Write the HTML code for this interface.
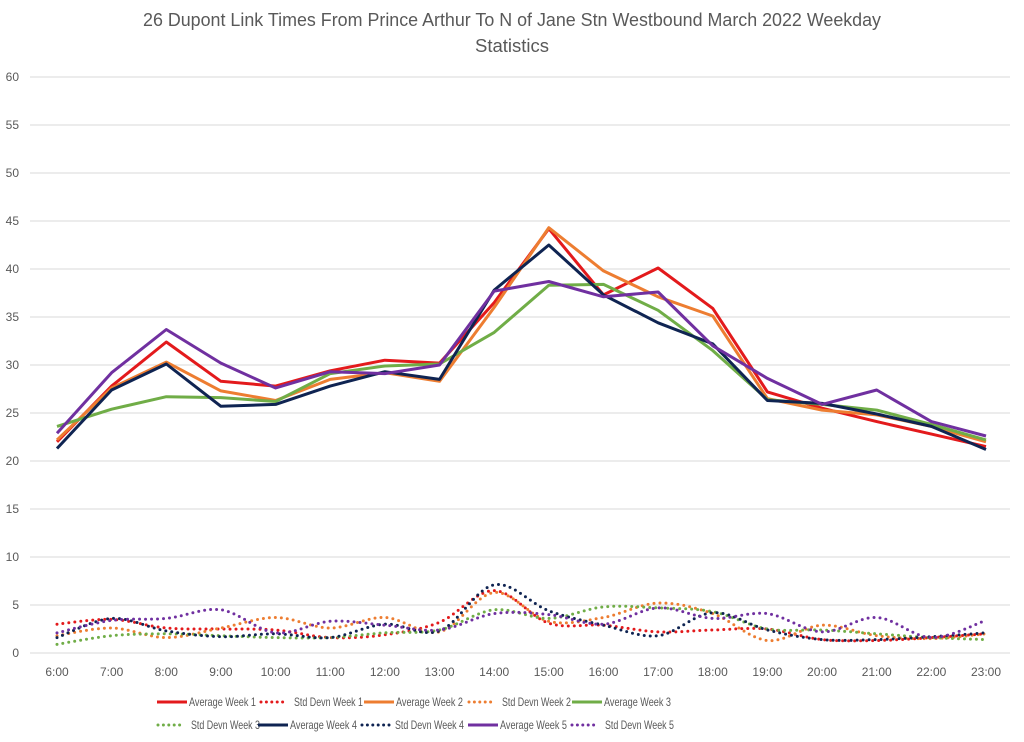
<!DOCTYPE html>
<html><head><meta charset="utf-8"><style>
body{margin:0;background:#fff;}
svg{display:block;font-family:"Liberation Sans",sans-serif;}
</style></head><body>
<svg id="chart" width="1024" height="742" viewBox="0 0 1024 742">
<text x="143" y="26" font-size="18.5" fill="#595959" textLength="738" lengthAdjust="spacingAndGlyphs">26 Dupont Link Times From Prince Arthur To N of Jane Stn Westbound March 2022 Weekday</text>
<text x="512" y="52" text-anchor="middle" font-size="18.5" fill="#595959">Statistics</text>
<g id="grid"></g><g id="series"></g><g id="legend"></g>
</svg>
<script>
const categories=["6:00","7:00","8:00","9:00","10:00","11:00","12:00","13:00","14:00","15:00","16:00","17:00","18:00","19:00","20:00","21:00","22:00","23:00"];
const yTicks=[0,5,10,15,20,25,30,35,40,45,50,55,60];
const avgWeek1=[22.0,27.8,32.4,28.3,27.8,29.4,30.5,30.2,36.5,44.2,37.3,40.1,35.9,27.2,25.5,24.1,22.8,21.5];
const sdWeek1=[3.0,3.5,2.6,2.5,2.4,1.6,1.9,3.2,6.5,3.1,2.9,2.2,2.4,2.5,1.4,1.3,1.6,2.0];
const avgWeek2=[22.2,27.6,30.3,27.3,26.3,28.5,29.2,28.3,36.0,44.3,39.8,37.1,35.1,26.5,25.3,24.8,23.6,22.0];
const sdWeek2=[1.8,2.6,1.6,2.6,3.7,2.6,3.7,2.2,6.3,3.3,3.7,5.2,4.1,1.3,2.9,1.8,1.5,2.0];
const avgWeek3=[23.6,25.4,26.7,26.6,26.2,29.1,29.9,30.1,33.4,38.3,38.4,35.7,31.5,26.4,25.9,25.3,23.8,22.2];
const sdWeek3=[0.9,1.8,2.0,1.8,1.6,1.6,2.1,2.4,4.5,3.6,4.8,4.7,4.3,2.5,2.4,2.0,1.6,1.4];
const avgWeek4=[21.3,27.4,30.1,25.7,25.9,27.8,29.3,28.5,37.8,42.5,37.3,34.4,32.2,26.3,26.0,24.9,23.6,21.2];
const sdWeek4=[1.6,3.6,2.3,1.7,2.0,1.6,3.0,2.3,7.1,4.4,2.9,1.8,4.2,2.4,1.4,1.4,1.7,2.1];
const avgWeek5=[22.9,29.2,33.7,30.2,27.6,29.3,29.1,30.0,37.7,38.7,37.1,37.6,32.0,28.6,25.9,27.4,24.1,22.6];
const sdWeek5=[2.1,3.4,3.6,4.5,2.1,3.3,2.9,2.4,4.1,4.0,3.0,4.7,3.6,4.1,2.2,3.7,1.6,3.4];

const NS="http://www.w3.org/2000/svg";
const x0=57,x1=986,y0=653,y60=77;
const xs=i=>x0+(x1-x0)*i/(categories.length-1);
const ys=v=>y0-(y0-y60)*v/60;
function mk(t,a,p){const e=document.createElementNS(NS,t);for(const k in a)e.setAttribute(k,a[k]);p.appendChild(e);return e;}
const grid=document.getElementById('grid');
yTicks.forEach(t=>{
  const l=mk('line',{x1:30,x2:1010,y1:ys(t),y2:ys(t),stroke:'#d9d9d9','stroke-width':1},grid);
  
  
  const tx=mk('text',{x:19,y:ys(t)+4,'text-anchor':'end','font-size':12,fill:'#595959'},grid);
  tx.textContent=t;
  
  
});
categories.forEach((c,i)=>{
  const tx=mk('text',{x:xs(i),y:676,'text-anchor':'middle','font-size':12,fill:'#595959'},grid);
  tx.textContent=c;
  
  
});
function straight(d){return d.map((v,i)=>(i?'L':'M')+xs(i).toFixed(1)+' '+ys(v).toFixed(1)).join(' ');}
function smooth(d){
  const p=d.map((v,i)=>[xs(i),ys(v)]);let s='M'+p[0][0]+' '+p[0][1];
  for(let i=0;i<p.length-1;i++){const a=p[Math.max(0,i-1)],b=p[i],c=p[i+1],e=p[Math.min(p.length-1,i+2)];
    const c1=[b[0]+(c[0]-a[0])/6,b[1]+(c[1]-a[1])/6],c2=[c[0]-(e[0]-b[0])/6,c[1]-(e[1]-b[1])/6];
    s+=` C${c1[0].toFixed(1)} ${c1[1].toFixed(1)} ${c2[0].toFixed(1)} ${c2[1].toFixed(1)} ${c[0].toFixed(1)} ${c[1].toFixed(1)}`;}
  return s;}
const colors=['#e31a1c','#ed7d31','#70ad47','#0f2452','#7030a0'];
const avgs=[avgWeek1,avgWeek2,avgWeek3,avgWeek4,avgWeek5];
const sds=[sdWeek1,sdWeek2,sdWeek3,sdWeek4,sdWeek5];
const sg=document.getElementById('series');
sds.forEach((d,i)=>{
  const p=mk('path',{d:smooth(d),fill:'none',stroke:colors[i],'stroke-width':3,'stroke-dasharray':'0 6','stroke-linecap':'round'},sg);
  
  
});
avgs.forEach((d,i)=>{
  const p=mk('path',{d:straight(d),fill:'none',stroke:colors[i],'stroke-width':3,'stroke-linejoin':'round'},sg);
  
  
});
const lg=document.getElementById('legend');
const items=[[157,702,0,false,'Average Week 1'],[260,702,0,true,'Std Devn Week 1'],[364,702,1,false,'Average Week 2'],[468,702,1,true,'Std Devn Week 2'],[572,702,2,false,'Average Week 3'],
[157,725,2,true,'Std Devn Week 3'],[258,725,3,false,'Average Week 4'],[361,725,3,true,'Std Devn Week 4'],[468,725,4,false,'Average Week 5'],[571,725,4,true,'Std Devn Week 5']];
items.forEach(([x,y,c,dot,label])=>{
  const g=mk('g',{},lg);
  
  
  if(dot)mk('line',{x1:x+1,x2:x+28,y1:y,y2:y,stroke:colors[c],'stroke-width':3,'stroke-dasharray':'0 5.4','stroke-linecap':'round'},g);
  else mk('line',{x1:x,x2:x+30,y1:y,y2:y,stroke:colors[c],'stroke-width':3},g);
  const t=mk('text',{x:x+(dot?34:32),y:y+4,'font-size':12,fill:'#595959',textLength:dot?69:67,lengthAdjust:'spacingAndGlyphs'},g);
  t.textContent=label;
});
</script>
</body></html>
